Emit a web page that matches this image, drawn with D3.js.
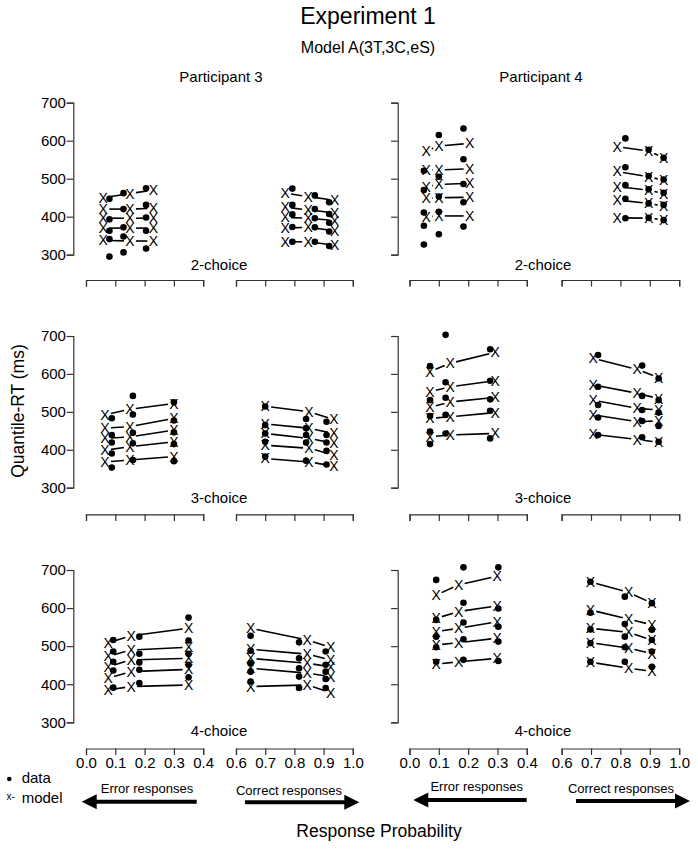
<!DOCTYPE html>
<html><head><meta charset="utf-8">
<script src="https://cdn.jsdelivr.net/npm/d3@7"></script>
<style>
body{margin:0;background:#fff}
svg{display:block}
text{font-family:"Liberation Sans",Arial,Helvetica,sans-serif;fill:#000}
</style>
</head><body>
<svg id="chart" width="698" height="849"></svg>
<script>
// ---------- DATA ----------
const quantiles = [0.1, 0.3, 0.5, 0.7, 0.9];
const participantNames = ["Participant 3", "Participant 4"];
const choiceNames = ["2-choice", "3-choice", "4-choice"];
const yTickValues = [300, 400, 500, 600, 700];
const errTickValues = [0.0, 0.1, 0.2, 0.3, 0.4];
const corTickValues = [0.6, 0.7, 0.8, 0.9, 1.0];

// Participant 3, 2-choice
const P3C2_errDataP = [0.080, 0.128, 0.205];
const P3C2_errDataRT = [[447,393,363,341,295],[462,420,372,348,306],[475,431,398,363,316]];
const P3C2_errModelP = [0.059, 0.150, 0.230];
const P3C2_errModelRT = [[450,420,396,370,338],[461,420,396,370,336],[470,422,396,370,336]];
const P3C2_corDataP = [0.793, 0.870, 0.919];
const P3C2_corDataRT = [[474,431,406,373,334],[456,420,396,372,334],[438,407,384,361,323]];
const P3C2_corModelP = [0.768, 0.847, 0.938];
const P3C2_corModelRT = [[462,425,398,370,334],[453,418,396,372,334],[443,410,390,363,325]];

// Participant 4, 2-choice
const P4C2_errDataP = [0.049, 0.100, 0.184];
const P4C2_errDataRT = [[521,470,411,376,327],[615,505,453,413,354],[632,551,486,438,374]];
const P4C2_errModelP = [0.057, 0.100, 0.205];
const P4C2_errModelRT = [[573,523,479,448,400],[586,523,485,450,402],[593,526,488,451,402]];
const P4C2_corDataP = [0.817, 0.896, 0.947];
const P4C2_corDataRT = [[606,530,483,447,396],[576,507,472,435,397],[555,498,463,431,391]];
const P4C2_corModelP = [0.789, 0.896, 0.947];
const P4C2_corModelRT = [[584,519,479,444,397],[573,505,470,435,396],[555,496,461,428,392]];

// Participant 3, 3-choice
const P3C3_errDataP = [0.088, 0.160, 0.300];
const P3C3_errDataRT = [[483,439,419,390,353],[542,493,445,417,373],[525,477,446,415,370]];
const P3C3_errModelP = [0.065, 0.150, 0.300];
const P3C3_errModelRT = [[492,457,430,399,368],[507,461,434,408,373],[522,483,452,421,382]];
const P3C3_corDataP = [0.700, 0.840, 0.910];
const P3C3_corDataRT = [[514,465,443,421,382],[481,457,439,419,371],[474,439,419,397,361]];
const P3C3_corModelP = [0.700, 0.850, 0.935];
const P3C3_corModelRT = [[515,468,443,412,377],[500,457,430,404,368],[480,443,417,386,357]];

// Participant 4, 3-choice
const P4C3_errDataP = [0.070, 0.123, 0.275];
const P4C3_errDataRT = [[621,531,489,448,415],[703,578,537,492,443],[665,582,533,503,430]];
const P4C3_errModelP = [0.070, 0.139, 0.292];
const P4C3_errModelRT = [[606,553,512,483,434],[628,566,526,487,439],[657,582,538,498,443]];
const P4C3_corDataP = [0.724, 0.874, 0.930];
const P4C3_corDataRT = [[650,566,518,485,439],[622,542,505,476,433],[588,531,498,463,421]];
const P4C3_corModelP = [0.707, 0.857, 0.930];
const P4C3_corModelRT = [[641,571,531,492,441],[612,549,509,474,427],[590,535,505,476,420]];

// Participant 3, 4-choice
const P3C4_errDataP = [0.093, 0.182, 0.350];
const P3C4_errDataRT = [[516,486,459,436,391],[525,480,457,438,403],[575,515,480,451,418]];
const P3C4_errModelP = [0.076, 0.154, 0.350];
const P3C4_errModelRT = [[509,473,446,416,385],[527,490,464,433,394],[547,497,468,439,398]];
const P3C4_corDataP = [0.650, 0.816, 0.907];
const P3C4_corDataRT = [[527,488,455,433,407],[510,468,442,420,390],[486,451,433,414,390]];
const P3C4_corModelP = [0.650, 0.844, 0.924];
const P3C4_corModelRT = [[547,492,468,442,394],[516,479,455,429,398],[497,464,446,420,378]];

// Participant 4, 4-choice
const P4C4_errDataP = [0.091, 0.184, 0.303];
const P4C4_errDataRT = [[674,569,525,497,459],[707,614,562,518,464],[707,599,551,512,461]];
const P4C4_errModelP = [0.091, 0.168, 0.299];
const P4C4_errModelRT = [[634,573,538,503,453],[661,591,547,509,459],[684,606,564,521,468]];
const P4C4_corDataP = [0.698, 0.815, 0.907];
const P4C4_corDataRT = [[669,588,544,508,459],[630,558,525,497,459],[613,543,516,486,446]];
const P4C4_corModelP = [0.698, 0.828, 0.907];
const P4C4_corModelRT = [[669,595,547,509,458],[641,571,536,495,442],[613,556,516,480,434]];

// ---------- assemble panels ----------
function side(dP, dRT, mP, mRT){ return {dataP:dP, dataRT:dRT, modelP:mP, modelRT:mRT}; }
const panels = [
  {col:0,row:0, err:side(P3C2_errDataP,P3C2_errDataRT,P3C2_errModelP,P3C2_errModelRT), cor:side(P3C2_corDataP,P3C2_corDataRT,P3C2_corModelP,P3C2_corModelRT)},
  {col:1,row:0, err:side(P4C2_errDataP,P4C2_errDataRT,P4C2_errModelP,P4C2_errModelRT), cor:side(P4C2_corDataP,P4C2_corDataRT,P4C2_corModelP,P4C2_corModelRT)},
  {col:0,row:1, err:side(P3C3_errDataP,P3C3_errDataRT,P3C3_errModelP,P3C3_errModelRT), cor:side(P3C3_corDataP,P3C3_corDataRT,P3C3_corModelP,P3C3_corModelRT)},
  {col:1,row:1, err:side(P4C3_errDataP,P4C3_errDataRT,P4C3_errModelP,P4C3_errModelRT), cor:side(P4C3_corDataP,P4C3_corDataRT,P4C3_corModelP,P4C3_corModelRT)},
  {col:0,row:2, err:side(P3C4_errDataP,P3C4_errDataRT,P3C4_errModelP,P3C4_errModelRT), cor:side(P3C4_corDataP,P3C4_corDataRT,P3C4_corModelP,P3C4_corModelRT)},
  {col:1,row:2, err:side(P4C4_errDataP,P4C4_errDataRT,P4C4_errModelP,P4C4_errModelRT), cor:side(P4C4_corDataP,P4C4_corDataRT,P4C4_corModelP,P4C4_corModelRT)}
];

// ---------- LAYOUT ----------
const cols = [
  {axisX:73.3, err:[86,203.2], cor:[236,352.8], center:221, choiceX:219},
  {axisX:397.7, err:[409.5,526.8], cor:[561.6,679.2], center:541, choiceX:543}
];
const rows = [
  {y700:102.7, y300:254.7, axisY:280, labelY:270},
  {y700:336,   y300:487.7, axisY:514.3, labelY:502.7},
  {y700:570,   y300:722.3, axisY:748.5, labelY:736}
];
const axisColor = "#333";
const GAP = 6;

const svg = d3.select("#chart");

function styleAxis(g, fontSize){
  g.attr("font-family", null).attr("font-size", null);
  g.selectAll("path,line").attr("stroke", axisColor).attr("stroke-width", 1.2);
  g.selectAll("text").style("font-size", fontSize + "px").attr("fill", "#000");
}

// titles
svg.append("text").attr("x",368).attr("y",24).attr("text-anchor","middle").style("font-size","23px").text("Experiment 1");
svg.append("text").attr("x",368).attr("y",53.3).attr("text-anchor","middle").style("font-size","16px").text("Model A(3T,3C,eS)");
cols.forEach((c,i)=>{
  svg.append("text").attr("x",c.center).attr("y",81.7).attr("text-anchor","middle").style("font-size","15px").text(participantNames[i]);
});

panels.forEach(p=>{
  const c = cols[p.col], r = rows[p.row];
  const y = d3.scaleLinear().domain([300,700]).range([r.y300, r.y700]);
  const xErr = d3.scaleLinear().domain([0,0.4]).range(c.err);
  const xCor = d3.scaleLinear().domain([0.6,1.0]).range(c.cor);

  // y axis
  const ya = d3.axisLeft(y).tickValues(yTickValues).tickSize(6.6).tickPadding(0.8)
    .tickFormat(p.col===0 ? d3.format("d") : "");
  const gy = svg.append("g").attr("transform",`translate(${c.axisX},0)`).call(ya);
  styleAxis(gy, 15);

  // x axes
  const showX = p.row===2;
  [[xErr, errTickValues],[xCor, corTickValues]].forEach(([sc, tv])=>{
    const xa = d3.axisBottom(sc).tickValues(tv).tickSize(6.6).tickPadding(2.6)
      .tickFormat(showX ? d3.format(".1f") : "");
    const gx = svg.append("g").attr("transform",`translate(0,${r.axisY})`).call(xa);
    styleAxis(gx, 15);
  });

  // choice label
  svg.append("text").attr("x",c.choiceX).attr("y",r.labelY).attr("text-anchor","middle")
    .style("font-size","15px").text(choiceNames[p.row]);

  // marks
  [[p.err, xErr],[p.cor, xCor]].forEach(([s, sc])=>{
    const g = svg.append("g");
    quantiles.forEach((q, qi)=>{
      // model line (type "b": segments with gaps)
      const pts = s.modelP.map((mp,i)=>[sc(mp), y(s.modelRT[i][qi])]);
      for(let i=0;i<pts.length-1;i++){
        const [x1,y1]=pts[i],[x2,y2]=pts[i+1];
        const L=Math.hypot(x2-x1,y2-y1);
        if(L>2*GAP){
          const ux=(x2-x1)/L, uy=(y2-y1)/L;
          g.append("line").attr("x1",x1+ux*GAP).attr("y1",y1+uy*GAP)
            .attr("x2",x2-ux*GAP).attr("y2",y2-uy*GAP)
            .attr("stroke","#000").attr("stroke-width",1.6);
        }
      }
      // model X symbols (plotting character "X")
      pts.forEach(([px,py])=>{
        g.append("text").attr("x",px).attr("y",py+5).attr("text-anchor","middle")
          .style("font-size","14px").text("X");
      });
      // data dots
      s.dataP.forEach((dp,i)=>{
        g.append("circle").attr("cx",sc(dp)).attr("cy",y(s.dataRT[i][qi])).attr("r",3.3).attr("fill","#000");
      });
    });
  });
});

// axis titles
svg.append("text").attr("transform","translate(24,411) rotate(-90)").attr("text-anchor","middle")
  .style("font-size","17.5px").text("Quantile-RT (ms)");
svg.append("text").attr("x",379).attr("y",836.7).attr("text-anchor","middle")
  .style("font-size","17.5px").text("Response Probability");

// legend
svg.append("circle").attr("cx",9.3).attr("cy",779).attr("r",2.3).attr("fill","#000");
svg.append("text").attr("x",21.7).attr("y",783.3).style("font-size","15px").text("data");
svg.append("text").attr("x",6.5).attr("y",800).style("font-size","10px").text("x-");
svg.append("text").attr("x",21.7).attr("y",803.3).style("font-size","15px").text("model");

// arrows
function arrow(xFrom, xTip, yc){
  const dir = Math.sign(xTip - xFrom), head = 15, hw = 7.5, sh = 2;
  const xb = xTip - dir*head;
  const d = `M${xFrom},${yc-sh}L${xb},${yc-sh}L${xb},${yc-hw}L${xTip},${yc}L${xb},${yc+hw}L${xb},${yc+sh}L${xFrom},${yc+sh}Z`;
  svg.append("path").attr("d",d).attr("fill","#000");
}
const arrowSpecs = [
  {label:"Error responses", tx:147, ty:793, from:196.7, tip:81.7, y:801.7},
  {label:"Correct responses", tx:289, ty:795, from:245, tip:359.3, y:802.3},
  {label:"Error responses", tx:476.7, ty:790.7, from:526.7, tip:413.3, y:800},
  {label:"Correct responses", tx:621, ty:792.7, from:576, tip:690, y:801}
];
arrowSpecs.forEach(a=>{
  svg.append("text").attr("x",a.tx).attr("y",a.ty).attr("text-anchor","middle").style("font-size","13px").text(a.label);
  arrow(a.from, a.tip, a.y);
});
</script>
</body></html>
